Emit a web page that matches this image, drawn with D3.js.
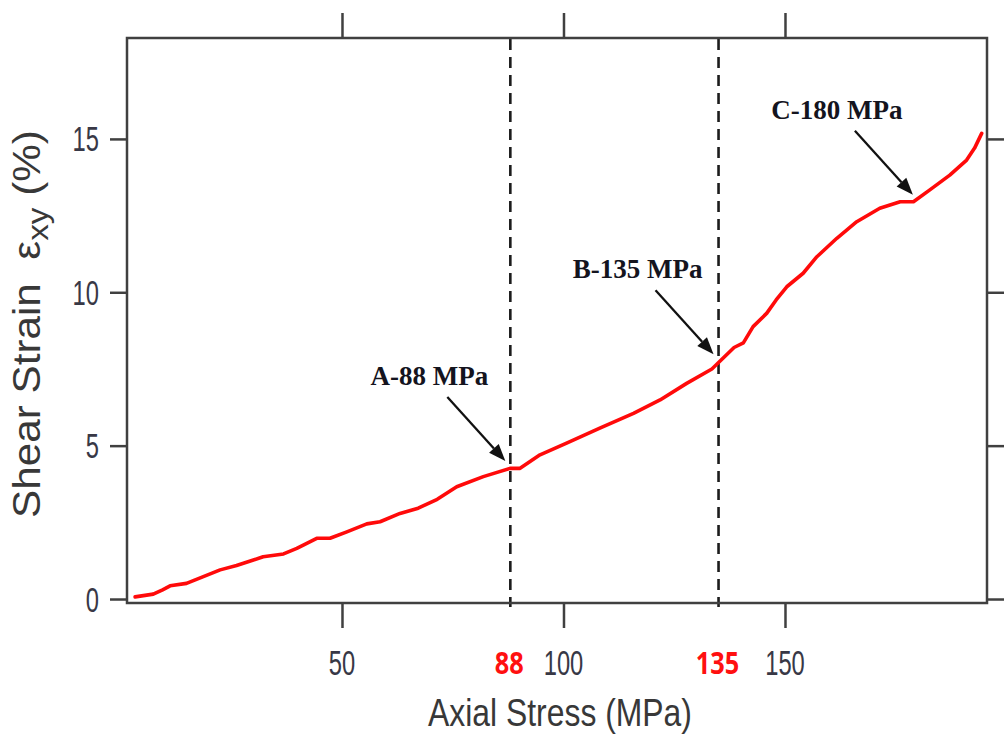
<!DOCTYPE html>
<html><head><meta charset="utf-8">
<script src="https://cdn.jsdelivr.net/npm/d3@7"></script>
<style>body{margin:0;background:#fff}svg{display:block}</style></head>
<body><svg id="c" width="1004" height="740"></svg>
<script>
// ---- data ----
const stress = [3.3,7.4,9.5,11.2,14.9,18.7,22.5,26.2,30,32.2,36.8,39.8,44.3,47.3,51.1,55.6,58.6,63.1,67.2,71.5,75.9,81.9,87.9,90.2,94.7,100.7,108.2,115.8,121.8,127.8,133.5,136,138.5,140.6,142.8,145.9,148,150.4,154.1,157.2,161.7,166.2,171.4,176,179,182.7,187.2,191,192.8,194.4];
const strain = [0.07,0.16,0.3,0.43,0.51,0.73,0.95,1.09,1.27,1.38,1.47,1.65,1.98,1.98,2.19,2.45,2.52,2.79,2.96,3.25,3.66,3.99,4.26,4.26,4.70,5.08,5.57,6.05,6.49,7.03,7.5,7.85,8.2,8.35,8.88,9.32,9.75,10.18,10.62,11.16,11.76,12.30,12.74,12.95,12.95,13.34,13.82,14.31,14.7,15.18];
const xTickVals = [50,100,150];
const xMarkVals = [88,135];
const yTickVals = [0,5,10,15];
const annLabels = ["A-88 MPa","B-135 MPa","C-180 MPa"];
const annStress = [88,135,180];
const annStrain = [4.27,7.75,12.95];
const xTitle = "Axial Stress (MPa)";

// ---- layout ----
const L=127,R=987,T=38,B=603;
const x = d3.scaleLinear().domain([1.47,195.6]).range([L,R]);
const y = d3.scaleLinear().domain([-0.13,18.29]).range([B,T]);
const svg = d3.select("#c");
const axisCol="#404040", labCol="#383846";

function fitText(sel, w){
  const n=sel.node(); const bw=n.getBBox().width;
  const s=w/bw; const tr=sel.attr("transform")||"";
  sel.attr("transform", tr+" scale("+s+",1)");
}

// dashed markers
xMarkVals.forEach(v=>{
  svg.append("line").attr("x1",x(v)).attr("x2",x(v)).attr("y1",T+1).attr("y2",B+4)
    .attr("stroke","#1c1c1c").attr("stroke-width",2.6).attr("stroke-dasharray","11,7");
});

// frame
svg.append("rect").attr("x",L).attr("y",T).attr("width",R-L).attr("height",B-T)
  .attr("fill","none").attr("stroke",axisCol).attr("stroke-width",2.5);

// axes ticks via d3 axes
const gB = svg.append("g").attr("transform",`translate(0,${B})`)
  .call(d3.axisBottom(x).tickValues(xTickVals).tickSize(25).tickFormat(""));
const gTop = svg.append("g").attr("transform",`translate(0,${T})`)
  .call(d3.axisTop(x).tickValues(xTickVals).tickSize(25).tickFormat(""));
const gL = svg.append("g").attr("transform",`translate(${L},0)`)
  .call(d3.axisLeft(y).tickValues(yTickVals).tickSize(17).tickFormat(""));
const gR = svg.append("g").attr("transform",`translate(${R},0)`)
  .call(d3.axisRight(y).tickValues(yTickVals).tickSize(17).tickFormat(""));
[gB,gTop,gL,gR].forEach(g=>{
  g.select(".domain").remove();
  g.selectAll(".tick line").attr("stroke",axisCol).attr("stroke-width",2.5);
});

// tick labels
xTickVals.forEach(v=>{
  const t=svg.append("text").attr("transform",`translate(${x(v)},675)`)
    .attr("text-anchor","middle").attr("font-family","Liberation Sans, Arial, sans-serif")
    .attr("font-size",36).attr("fill",labCol).text(v);
  fitText(t, String(v).length*13.2);
});
xMarkVals.forEach(v=>{
  const t=svg.append("text").attr("transform",`translate(${x(v)-1},674)`)
    .attr("text-anchor","middle").attr("font-family","Open Sans, sans-serif")
    .attr("font-weight","bold").attr("font-size",30).attr("fill","#ff1010").text(v);
  fitText(t, String(v).length*14.5);
});
yTickVals.forEach(v=>{
  const t=svg.append("text").attr("transform",`translate(99,${y(v)+12.5})`)
    .attr("text-anchor","end").attr("font-family","Liberation Sans, Arial, sans-serif")
    .attr("font-size",36).attr("fill",labCol).text(v);
  fitText(t, String(v).length*13.2);
});

// axis titles
const xt=svg.append("text").attr("transform","translate(560,726)")
  .attr("text-anchor","middle").attr("font-family","Liberation Sans, Arial, sans-serif")
  .attr("font-size",38).attr("fill","#383838").text(xTitle);
fitText(xt,264);

const yt=svg.append("text").attr("transform","translate(40,324) rotate(-90)")
  .attr("text-anchor","middle").attr("font-family","Liberation Sans, Arial, sans-serif")
  .attr("font-size",38).attr("fill","#383838");
yt.append("tspan").text("Shear Strain\u00a0\u00a0\u03b5");
yt.append("tspan").attr("font-size",30).attr("dy",8).text("xy");
yt.append("tspan").attr("dy",-8).text(" (%)");
fitText(yt,388);

// curve
const pts = stress.map((s,i)=>[s,strain[i]]);
svg.append("path").datum(pts)
  .attr("d",d3.line().x(d=>x(d[0])).y(d=>y(d[1])))
  .attr("fill","none").attr("stroke","#ff0a0a").attr("stroke-width",3.6)
  .attr("stroke-linejoin","round").attr("stroke-linecap","round");

// annotations
annLabels.forEach((lab,i)=>{
  const tx=x(annStress[i])-5, ty=y(annStrain[i])-7;
  const sx=tx-58, sy=ty-64;
  const ang=Math.atan2(ty-sy,tx-sx);
  const hl=17, hw=6.5;
  const bx=tx-hl*Math.cos(ang), by=ty-hl*Math.sin(ang);
  svg.append("line").attr("x1",sx).attr("y1",sy).attr("x2",bx).attr("y2",by)
    .attr("stroke","#111").attr("stroke-width",2.3);
  const px=-Math.sin(ang), py=Math.cos(ang);
  svg.append("path").attr("d",`M${tx},${ty}L${bx+px*hw},${by+py*hw}L${bx-px*hw},${by-py*hw}Z`)
    .attr("fill","#111");
  svg.append("text").attr("x",sx-18).attr("y",sy-12).attr("text-anchor","middle")
    .attr("font-family","Liberation Serif, Times New Roman, serif").attr("font-weight","bold")
    .attr("font-size",27).attr("fill","#14141e").text(lab);
});
</script></body></html>
